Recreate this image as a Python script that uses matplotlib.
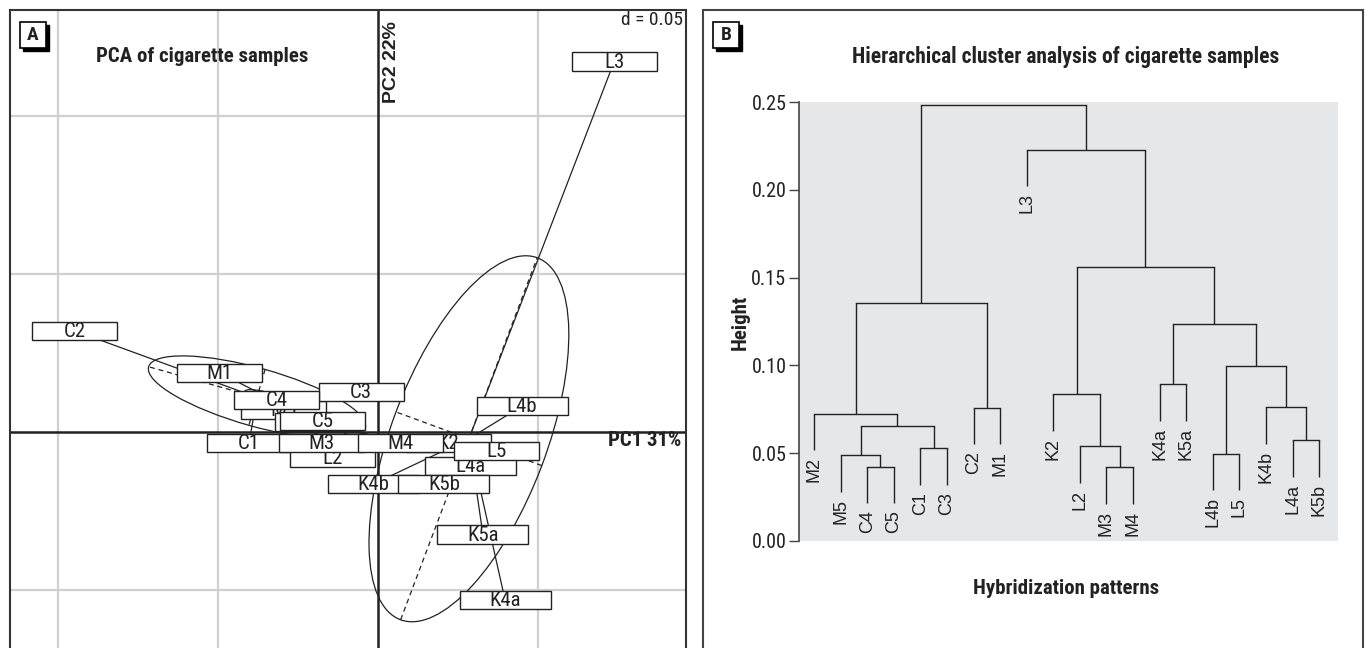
import matplotlib
matplotlib.use("Agg")
import matplotlib.pyplot as plt
from matplotlib import font_manager
from matplotlib.patches import Rectangle, Ellipse
import numpy as np

W, H = 1365, 648

# ---- Panel A: PCA scores of each sample
samples = ["C1", "C2", "C3", "C4", "C5", "M1", "M2", "M3", "M4", "M5",
           "K2", "K4a", "K4b", "K5a", "K5b", "L2", "L3", "L4a", "L4b", "L5"]
pc1 = [-0.0403, -0.0947, -0.0053, -0.0316, -0.0172, -0.0494, -0.0188, -0.0178, 0.0069, -0.0294,
       0.0219, 0.0397, -0.0013, 0.0328, 0.0206, -0.0141, 0.0738, 0.0288, 0.0450, 0.0369]
pc2 = [-0.0035, 0.0320, 0.0127, 0.0101, 0.0035, 0.0187, 0.0032, -0.0035, -0.0035, 0.0070,
       -0.0035, -0.0531, -0.0164, -0.0325, -0.0164, -0.0082, 0.1172, -0.0107, 0.0082, -0.0060]
groups = ["C"] * 5 + ["M"] * 5 + ["KL"] * 10
# ellipse size in standard deviations, per group
ell_sd = {"C": 1.1, "M": 1.1, "KL": 1.35}
# order in which labels were stacked (first = bottom)
label_order = ["M5", "M2", "K2", "C1", "C2", "C3", "C4", "C5", "M1", "L2", "M3", "M4",
               "K4b", "L4a", "L5", "K5b", "K5a", "K4a", "L4b", "L3"]

# ---- Panel B: dendrogram (leaf order and merges: child a, child b, height)
leaves = ["M2", "M5", "C4", "C5", "C1", "C3", "C2", "M1", "L3", "K2",
          "L2", "M3", "M4", "K4a", "K5a", "L4b", "L5", "K4b", "L4a", "K5b"]
merge_a = [11, 2, 1, 15, 4, 10, 18, 22, 0, 6, 17, 9, 13, 23, 32, 28, 31, 8, 35]
merge_b = [12, 3, 21, 16, 5, 20, 19, 24, 27, 7, 26, 25, 14, 30, 33, 29, 34, 36, 37]
merge_h = [0.0420, 0.0421, 0.0488, 0.0497, 0.0528, 0.0539, 0.0573, 0.0657, 0.0725, 0.0759,
           0.0761, 0.0835, 0.0892, 0.0997, 0.1236, 0.1357, 0.1560, 0.2227, 0.2483]
HANG = 0.0207


def pick(cands):
    names = {f.name for f in font_manager.fontManager.ttflist}
    for c in cands:
        if c in names:
            return c
    return "DejaVu Sans"


COND = pick(["Roboto Condensed", "Liberation Sans Narrow", "Noto Sans Condensed",
             "Open Sans Condensed", "Liberation Sans"])
SANS = pick(["Liberation Sans", "DejaVu Sans"])
plt.rcParams["font.family"] = [COND, "DejaVu Sans"]
INK = "#222222"


def fx(px):
    return px / W


def fy(py):
    return 1 - py / H


fig = plt.figure(figsize=(W / 100, H / 100), dpi=100)

# ================= Panel A =================
# 0.05 units ~ 160 px horizontally, 158 px vertically; origin at (378, 432)
sx, sy = 0.05 / 160, 0.05 / 158
axA = fig.add_axes([fx(10), fy(654), fx(686) - fx(10), fy(10) - fy(654)])
axA.set_xlim((10 - 378) * sx, (686 - 378) * sx)
axA.set_ylim((432 - 654) * sy, (432 - 10) * sy)
axA.set_xticks([])
axA.set_yticks([])
for s in axA.spines.values():
    s.set_color("#333333")
    s.set_linewidth(1.5)
for g in [-0.10, -0.05, 0.05]:
    axA.axvline(g, color="#d0d0d0", lw=1.6, zorder=0)
for g in [-0.05, 0.05, 0.10]:
    axA.axhline(g, color="#d0d0d0", lw=1.6, zorder=0)
axA.axvline(0, color=INK, lw=1.8, zorder=1)
axA.axhline(0, color=INK, lw=1.8, zorder=1)

x = np.array(pc1)
y = np.array(pc2)
gr = np.array(groups)
for g in ["C", "M", "KL"]:
    m = gr == g
    cx, cy = x[m].mean(), y[m].mean()
    for px_, py_ in zip(x[m], y[m]):
        axA.plot([cx, px_], [cy, py_], color=INK, lw=0.9, zorder=2)
    cov = np.cov(np.vstack([x[m], y[m]]), bias=True)
    vals, vecs = np.linalg.eigh(cov)
    k = ell_sd[g]
    v1 = vecs[:, 1]
    ang = np.degrees(np.arctan2(v1[1], v1[0]))
    axA.add_patch(Ellipse((cx, cy), 2 * k * np.sqrt(vals[1]), 2 * k * np.sqrt(vals[0]),
                          angle=ang, fill=False, ec=INK, lw=0.9, zorder=2))
    for j in range(2):
        a = k * np.sqrt(vals[j]) * vecs[:, j]
        axA.plot([cx - a[0], cx + a[0]], [cy - a[1], cy + a[1]], color=INK,
                 lw=0.9, ls=(0, (4, 3)), zorder=2)

z = 3.0
for name in label_order:
    i = samples.index(name)
    bw = (91 if len(name) > 2 else 85) * sx
    bh = 18.5 * sy
    axA.add_patch(Rectangle((x[i] - bw / 2, y[i] - bh / 2), bw, bh, fc="white",
                            ec=INK, lw=1.0, zorder=z))
    axA.text(x[i], y[i] - 0.4 * sy, name, ha="center", va="center", fontsize=15,
             color=INK, zorder=z + 0.01)
    z += 0.02

axA.text(5 * sx, (432 - 21) * sy, "PC2 22%", rotation=90, ha="left", va="top",
         fontsize=14, fontweight="bold", family=SANS, color=INK)
axA.text((681 - 378) * sx, (432 - 441) * sy, "PC1 31%", ha="right", va="center",
         fontsize=15, fontweight="bold", color=INK)
fig.text(fx(683), fy(20), "d = 0.05", ha="right", va="center", fontsize=14, color=INK)
fig.text(fx(96), fy(57), "PCA of cigarette samples", ha="left", va="center",
         fontsize=15, fontweight="bold", color=INK)


def letter_box(x0, y0, letter):
    fig.patches.append(Rectangle((fx(x0 + 3), fy(y0 + 29)), fx(26), 26 / H, fc="black",
                                 ec="black", transform=fig.transFigure, figure=fig))
    fig.patches.append(Rectangle((fx(x0), fy(y0 + 26)), fx(26), 26 / H, fc="white",
                                 ec="black", lw=1.2, transform=fig.transFigure, figure=fig))
    fig.text(fx(x0 + 13), fy(y0 + 13), letter, ha="center", va="center", fontsize=14,
             fontweight="bold", color=INK)


letter_box(20, 22, "A")

# ================= Panel B =================
fig.patches.append(Rectangle((fx(703), fy(660)), fx(1363) - fx(703), fy(10) - fy(660),
                             fill=False, ec="#444444", lw=1.5,
                             transform=fig.transFigure, figure=fig))
letter_box(713, 22, "B")

axB = fig.add_axes([fx(799), fy(541), fx(1338) - fx(799), fy(102) - fy(541)])
axB.set_facecolor("#e6e7e8")
axB.set_xlim(0.436, 20.71)
axB.set_ylim(0, 0.25)
for s in ["top", "right", "bottom"]:
    axB.spines[s].set_visible(False)
axB.spines["left"].set_bounds(0, 0.25)
axB.spines["left"].set_color("#444444")
axB.spines["left"].set_linewidth(1.2)
axB.set_xticks([])
axB.set_yticks([0, 0.05, 0.10, 0.15, 0.20, 0.25])
axB.set_yticklabels(["0.00", "0.05", "0.10", "0.15", "0.20", "0.25"])
axB.tick_params(axis="y", direction="out", length=7, width=1, color="#444444",
                labelsize=14.5, labelcolor=INK, pad=2)

n = len(leaves)
node_x = {i: i + 1.0 for i in range(n)}
node_h = {}
for k, (a, b, h) in enumerate(zip(merge_a, merge_b, merge_h)):
    node = n + k
    for c in (a, b):
        ch = node_h[c] if c >= n else h - HANG
        axB.plot([node_x[c], node_x[c]], [ch, h], color=INK, lw=1.0,
                 solid_capstyle="butt")
        if c < n:
            axB.text(node_x[c], ch - 0.004, leaves[c], rotation=90, ha="center",
                     va="top", fontsize=13, family=SANS, color=INK, clip_on=False)
    axB.plot([node_x[a], node_x[b]], [h, h], color=INK, lw=1.0)
    node_x[node] = (node_x[a] + node_x[b]) / 2
    node_h[node] = h

fig.text(fx(1066), fy(57), "Hierarchical cluster analysis of cigarette samples",
         ha="center", va="center", fontsize=15.5, fontweight="bold", color=INK)
fig.text(fx(740), fy(322), "Height", rotation=90, ha="center", va="center",
         fontsize=15, fontweight="bold", color=INK)
fig.text(fx(1066), fy(588), "Hybridization patterns", ha="center", va="center",
         fontsize=15, fontweight="bold", color=INK)

fig.savefig("out.png", dpi=100)
